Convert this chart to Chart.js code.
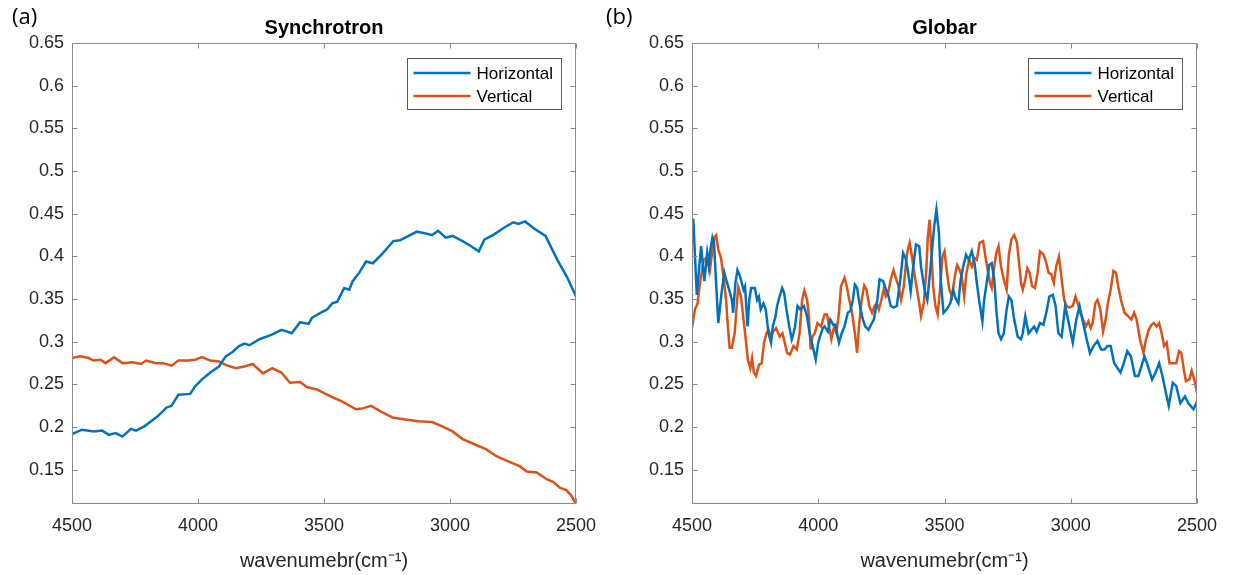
<!DOCTYPE html>
<html>
<head>
<meta charset="utf-8">
<script src="https://cdn.jsdelivr.net/npm/chart.js@4.4.0/dist/chart.umd.min.js"></script>
<style>
  body { margin: 0; background: #fff; }
  #wrap { position: relative; width: 1235px; height: 575px; overflow: hidden; }
  canvas { position: absolute; top: 0; }
  .tag { position: absolute; top: 0px; font-family: "Open Sans", sans-serif; font-size: 22px; color: #000; }
</style>
</head>
<body>
<div id="wrap">
  <canvas id="synChart" width="617" height="575" style="left:0px"></canvas>
  <canvas id="globChart" width="618" height="575" style="left:617px"></canvas>
  <div class="tag" style="left:12px">(a)</div>
  <div class="tag" style="left:606px">(b)</div>
</div>
<script>
// axis ticks
var xTicks = [4500, 4000, 3500, 3000, 2500];
var yTicks = [0.15, 0.2, 0.25, 0.3, 0.35, 0.4, 0.45, 0.5, 0.55, 0.6, 0.65];

// (a) Synchrotron
var synHorizWn = [4500,4461,4414,4380,4354,4327,4300,4266,4246,4213,
  4186,4159,4125,4105,4078,4031,4011,3984,3951,3917,
  3890,3863,3837,3816,3796,3756,3709,3669,3648,3628,
  3595,3561,3548,3514,3487,3467,3447,3420,3400,3386,
  3360,3333,3306,3272,3225,3198,3172,3131,3098,3071,
  3047,3017,2990,2950,2916,2886,2863,2829,2789,2749,
  2728,2702,2668,2621,2574,2534,2500];
var synHorizVal = [0.192,0.197,0.195,0.196,0.191,0.193,0.189,0.198,0.196,0.201,
  0.207,0.213,0.223,0.225,0.238,0.239,0.248,0.256,0.264,0.271,
  0.283,0.288,0.295,0.298,0.296,0.303,0.308,0.314,0.312,0.310,
  0.323,0.321,0.328,0.334,0.338,0.345,0.347,0.363,0.361,0.371,
  0.381,0.394,0.392,0.402,0.418,0.419,0.423,0.429,0.427,0.425,
  0.430,0.422,0.424,0.418,0.412,0.406,0.420,0.425,0.433,0.440,
  0.438,0.441,0.433,0.424,0.396,0.375,0.353];
var synVertWn = [4500,4468,4434,4414,4387,4367,4333,4300,4260,4226,
  4206,4166,4139,4105,4078,4038,4011,3984,3951,3917,
  3890,3850,3816,3783,3742,3705,3669,3635,3595,3568,
  3527,3474,3427,3373,3346,3313,3272,3225,3178,3125,
  3071,3031,2990,2950,2903,2856,2816,2762,2722,2696,
  2656,2616,2591,2564,2537,2517,2500];
var synVertVal = [0.281,0.283,0.281,0.278,0.279,0.275,0.282,0.275,0.276,0.274,
  0.278,0.275,0.275,0.272,0.278,0.278,0.279,0.282,0.278,0.277,
  0.273,0.269,0.271,0.274,0.263,0.269,0.264,0.252,0.253,0.247,
  0.244,0.236,0.230,0.221,0.222,0.225,0.218,0.211,0.209,0.207,
  0.206,0.201,0.195,0.186,0.180,0.174,0.166,0.159,0.154,0.148,
  0.147,0.139,0.136,0.129,0.126,0.119,0.110];

// (b) Globar
var globHorizWn = [4500,4495,4481,4464,4451,4440,4433,4429,4419,4413,
  4396,4383,4372,4365,4351,4342,4337,4328,4320,4310,
  4303,4296,4290,4280,4273,4266,4251,4242,4235,4228,
  4217,4208,4197,4187,4180,4169,4163,4153,4143,4135,
  4126,4115,4105,4098,4092,4082,4071,4057,4046,4034,
  4019,4010,4000,3993,3982,3975,3962,3952,3941,3932,
  3918,3907,3896,3883,3873,3863,3855,3846,3839,3832,
  3825,3814,3801,3791,3780,3766,3757,3743,3734,3723,
  3713,3702,3689,3675,3664,3654,3645,3634,3624,3613,
  3600,3593,3579,3568,3555,3541,3532,3522,3514,3504,
  3491,3477,3466,3456,3445,3436,3426,3415,3404,3392,
  3381,3372,3361,3350,3343,3333,3323,3313,3303,3295,
  3286,3276,3265,3254,3245,3235,3224,3210,3197,3190,
  3180,3167,3156,3145,3135,3122,3108,3094,3085,3071,
  3060,3049,3036,3022,3008,2992,2978,2965,2951,2937,
  2924,2910,2894,2880,2866,2855,2842,2828,2803,2790,
  2776,2762,2746,2732,2708,2698,2678,2664,2650,2637,
  2623,2612,2596,2582,2566,2548,2534,2514,2500];
var globHorizVal = [0.431,0.444,0.355,0.412,0.371,0.404,0.388,0.404,0.422,0.416,
  0.322,0.357,0.381,0.373,0.359,0.349,0.334,0.369,0.384,0.377,
  0.369,0.361,0.365,0.318,0.349,0.363,0.363,0.349,0.353,0.338,
  0.345,0.338,0.310,0.299,0.318,0.330,0.342,0.353,0.363,0.357,
  0.338,0.318,0.303,0.310,0.318,0.342,0.338,0.342,0.332,0.310,
  0.291,0.279,0.299,0.306,0.316,0.318,0.312,0.326,0.320,0.320,
  0.299,0.310,0.318,0.334,0.336,0.349,0.367,0.363,0.349,0.338,
  0.328,0.318,0.314,0.320,0.326,0.349,0.373,0.371,0.363,0.355,
  0.342,0.340,0.342,0.373,0.404,0.398,0.383,0.359,0.388,0.414,
  0.412,0.388,0.361,0.349,0.388,0.435,0.455,0.427,0.369,0.334,
  0.338,0.345,0.361,0.351,0.345,0.373,0.388,0.402,0.396,0.406,
  0.392,0.369,0.345,0.324,0.349,0.369,0.390,0.392,0.373,0.338,
  0.310,0.303,0.310,0.338,0.353,0.349,0.326,0.306,0.303,0.310,
  0.330,0.310,0.314,0.318,0.312,0.322,0.320,0.338,0.353,0.355,
  0.342,0.310,0.306,0.342,0.322,0.299,0.326,0.342,0.322,0.303,
  0.287,0.295,0.301,0.291,0.291,0.295,0.295,0.275,0.264,0.275,
  0.289,0.283,0.260,0.260,0.283,0.275,0.256,0.264,0.275,0.260,
  0.240,0.225,0.252,0.248,0.228,0.236,0.228,0.221,0.230];
var globVertWn = [4500,4488,4478,4470,4460,4454,4443,4437,4429,4419,
  4410,4404,4396,4385,4374,4365,4358,4351,4342,4331,
  4324,4317,4306,4296,4287,4279,4269,4262,4255,4246,
  4235,4224,4215,4205,4197,4187,4178,4167,4153,4142,
  4133,4123,4112,4098,4085,4074,4064,4055,4044,4037,
  4030,4023,4014,4003,3989,3975,3965,3955,3948,3937,
  3928,3918,3910,3896,3887,3877,3866,3855,3846,3839,
  3828,3818,3809,3798,3787,3777,3768,3760,3750,3741,
  3732,3723,3713,3702,3691,3682,3672,3661,3654,3648,
  3638,3631,3620,3609,3600,3593,3582,3572,3566,3559,
  3552,3545,3536,3527,3518,3508,3500,3491,3481,3470,
  3459,3450,3440,3432,3422,3413,3402,3391,3381,3372,
  3361,3347,3336,3327,3320,3313,3306,3295,3286,3276,
  3265,3254,3245,3235,3224,3213,3204,3197,3190,3180,
  3172,3163,3153,3142,3131,3122,3108,3098,3088,3077,
  3067,3058,3047,3036,3026,3017,3006,2992,2981,2971,
  2962,2951,2940,2930,2921,2913,2903,2894,2883,2872,
  2862,2853,2842,2831,2821,2812,2801,2787,2773,2760,
  2749,2739,2726,2712,2702,2691,2680,2671,2660,2650,
  2640,2630,2620,2609,2596,2582,2571,2562,2552,2544,
  2530,2521,2511,2500];
var globVertVal = [0.316,0.338,0.345,0.365,0.384,0.396,0.398,0.392,0.384,0.408,
  0.423,0.425,0.408,0.398,0.373,0.349,0.318,0.293,0.293,0.310,
  0.338,0.364,0.353,0.326,0.303,0.279,0.269,0.281,0.264,0.260,
  0.273,0.275,0.299,0.310,0.314,0.306,0.312,0.316,0.306,0.310,
  0.299,0.287,0.285,0.295,0.291,0.310,0.349,0.360,0.349,0.330,
  0.291,0.306,0.310,0.322,0.318,0.332,0.332,0.314,0.303,0.318,
  0.310,0.334,0.365,0.375,0.365,0.349,0.334,0.310,0.287,0.318,
  0.349,0.366,0.361,0.342,0.334,0.342,0.345,0.338,0.349,0.361,
  0.353,0.357,0.373,0.384,0.373,0.365,0.349,0.365,0.388,0.404,
  0.416,0.404,0.381,0.361,0.345,0.330,0.345,0.384,0.423,0.443,
  0.408,0.365,0.342,0.332,0.361,0.400,0.406,0.383,0.361,0.353,
  0.377,0.390,0.384,0.377,0.353,0.381,0.396,0.388,0.398,0.396,
  0.416,0.418,0.396,0.381,0.369,0.363,0.381,0.404,0.412,0.388,
  0.373,0.361,0.402,0.420,0.425,0.416,0.390,0.369,0.361,0.373,
  0.386,0.381,0.365,0.363,0.381,0.406,0.402,0.394,0.381,0.379,
  0.369,0.388,0.400,0.373,0.349,0.342,0.340,0.342,0.353,0.344,
  0.334,0.326,0.318,0.324,0.316,0.322,0.345,0.349,0.338,0.312,
  0.326,0.345,0.361,0.383,0.381,0.365,0.349,0.334,0.330,0.326,
  0.334,0.326,0.303,0.287,0.303,0.314,0.320,0.322,0.318,0.322,
  0.310,0.295,0.299,0.275,0.275,0.275,0.289,0.287,0.267,0.254,
  0.256,0.266,0.256,0.240];

var blue = '#0072BD';
var orange = '#D95319';
var fontFam = '"Liberation Sans", Arial, Helvetica, sans-serif';

function toPoints(wn, val) {
  var pts = [];
  for (var i = 0; i < wn.length; i++) {
    pts.push({ x: wn[i], y: val[i] });
  }
  return pts;
}

// box round the plot with ticks pointing inward (matlab look)
var framePlugin = {
  id: 'frame',
  afterDatasetsDraw: function(chart) {
    var ctx = chart.ctx;
    var a = chart.chartArea;
    var xs = chart.scales.x, ys = chart.scales.y;
    var l = Math.round(a.left) + 0.5, r = Math.round(a.right) - 0.5;
    var t = Math.round(a.top) + 0.5, b = Math.round(a.bottom) - 0.5;
    ctx.save();
    ctx.strokeStyle = '#8a8a8a';
    ctx.lineWidth = 1;
    ctx.beginPath();
    ctx.rect(l, t, r - l, b - t);
    xTicks.forEach(function(v) {
      var px = Math.round(xs.getPixelForValue(v)) + 0.5;
      ctx.moveTo(px, b); ctx.lineTo(px, b - 5);
      ctx.moveTo(px, t); ctx.lineTo(px, t + 5);
    });
    yTicks.forEach(function(v) {
      var py = Math.round(ys.getPixelForValue(v)) + 0.5;
      ctx.moveTo(l, py); ctx.lineTo(l + 5, py);
      ctx.moveTo(r, py); ctx.lineTo(r - 5, py);
    });
    ctx.stroke();
    ctx.restore();
  }
};

// legend box in the top right corner of the plot
var boxLegendPlugin = {
  id: 'boxLegend',
  afterDraw: function(chart) {
    var ctx = chart.ctx;
    var a = chart.chartArea;
    var w = 154, h = 51;
    var x0 = Math.round(a.right) - 15 - w + 0.5;
    var y0 = Math.round(a.top) + 15 + 0.5;
    ctx.save();
    ctx.fillStyle = '#fff';
    ctx.fillRect(x0, y0, w, h);
    ctx.strokeStyle = '#5a5a5a';
    ctx.lineWidth = 1;
    ctx.strokeRect(x0, y0, w, h);
    chart.data.datasets.forEach(function(ds, i) {
      var y = y0 + 14.5 + i * 23;
      ctx.strokeStyle = ds.borderColor;
      ctx.lineWidth = ds.borderWidth;
      ctx.beginPath();
      ctx.moveTo(x0 + 6, y);
      ctx.lineTo(x0 + 63, y);
      ctx.stroke();
      ctx.fillStyle = '#000';
      ctx.font = '17px ' + fontFam;
      ctx.textBaseline = 'middle';
      ctx.fillText(ds.label, x0 + 69, y + 1);
    });
    ctx.restore();
  }
};

function makeChart(canvasId, title, leftWidth, rightPad, hWn, hVal, vWn, vVal) {
  var ctx = document.getElementById(canvasId).getContext('2d');
  return new Chart(ctx, {
    type: 'line',
    data: {
      datasets: [{
        label: 'Horizontal',
        data: toPoints(hWn, hVal),
        borderColor: blue,
        borderWidth: 2.5,
        pointRadius: 0,
        tension: 0
      }, {
        label: 'Vertical',
        data: toPoints(vWn, vVal),
        borderColor: orange,
        borderWidth: 2.5,
        pointRadius: 0,
        tension: 0
      }]
    },
    options: {
      responsive: false,
      animation: false,
      layout: { padding: { left: 0, right: rightPad, top: 0, bottom: 0 } },
      plugins: {
        legend: { display: false },
        tooltip: { enabled: false },
        title: {
          display: true,
          text: title,
          fullSize: false,
          color: '#000',
          font: { family: fontFam, size: 20, weight: 'bold' },
          padding: { top: 16, bottom: 3 }
        }
      },
      scales: {
        x: {
          type: 'linear',
          reverse: true,
          min: 2500,
          max: 4500,
          afterBuildTicks: function(scale) {
            scale.ticks = xTicks.map(function(v) { return { value: v }; });
          },
          afterFit: function(scale) { scale.height = 71; },
          grid: { display: false, drawTicks: false },
          border: { display: false },
          ticks: {
            color: '#262626',
            font: { family: fontFam, size: 18 },
            padding: 11,
            maxRotation: 0,
            autoSkip: false,
            callback: function(v) { return String(v); }
          },
          title: {
            display: true,
            text: 'wavenumebr(cm\u207B\u00B9)',
            color: '#262626',
            font: { family: fontFam, size: 20 },
            padding: { top: 0, bottom: 2 }
          }
        },
        y: {
          min: 0.11,
          max: 0.65,
          afterBuildTicks: function(scale) {
            scale.ticks = yTicks.map(function(v) { return { value: v }; });
          },
          afterFit: function(scale) { scale.width = leftWidth; },
          grid: { display: false, drawTicks: false },
          border: { display: false },
          ticks: {
            color: '#262626',
            font: { family: fontFam, size: 18 },
            padding: 8,
            autoSkip: false,
            callback: function(v) { return String(parseFloat(v.toFixed(2))); }
          }
        }
      }
    },
    plugins: [framePlugin, boxLegendPlugin]
  });
}

makeChart('synChart', 'Synchrotron', 72, 41, synHorizWn, synHorizVal, synVertWn, synVertVal);
makeChart('globChart', 'Globar', 75, 38, globHorizWn, globHorizVal, globVertWn, globVertVal);
</script>
</body>
</html>
